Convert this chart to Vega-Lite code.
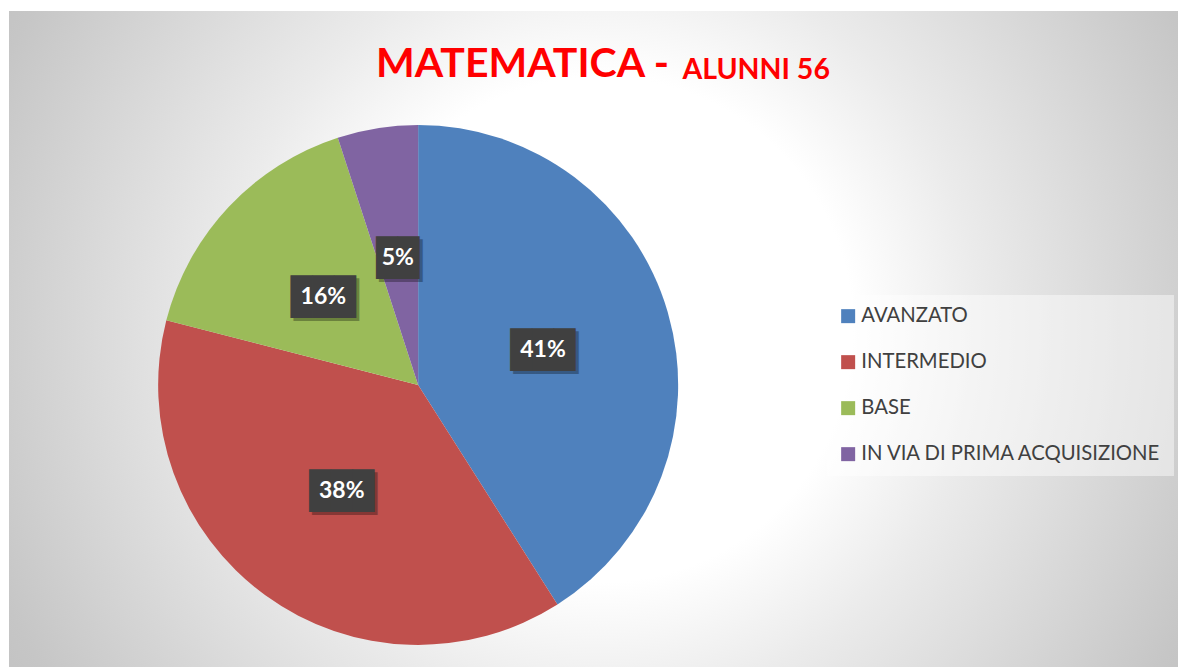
{
  "$schema": "https://vega.github.io/schema/vega-lite/v6.json",
  "width": 1178,
  "height": 667,
  "autosize": {"type": "fit", "contains": "padding"},
  "padding": {"left": 9, "top": 11, "right": 0, "bottom": 0},
  "background": "white",
  "config": {"view": {"stroke": "#bfbfbf", "strokeWidth": 1}},
  "title": {
    "text": "MATEMATICA -",
    "subtitle": "\u200b\u2003\u2003\u2003\u2003\u2003\u2003\u2003\u2003\u2003\u2003\u2003\u2003\u2003\u2003\u2009\u2009ALUNNI 56",
    "anchor": "start",
    "frame": "group",
    "dx": 367,
    "offset": -75,
    "font": "Lato",
    "fontSize": 41,
    "fontWeight": "bold",
    "color": "#ff0000",
    "subtitleFont": "Lato",
    "subtitleFontSize": 28.5,
    "subtitleFontWeight": "bold",
    "subtitleColor": "#ff0000",
    "subtitlePadding": -30
  },
  "data": {
    "values": [
      {"livello": "AVANZATO", "perc": 41},
      {"livello": "INTERMEDIO", "perc": 38},
      {"livello": "BASE", "perc": 16},
      {"livello": "IN VIA DI PRIMA ACQUISIZIONE", "perc": 5}
    ]
  },
  "transform": [
    {"window": [{"op": "row_number", "as": "ordine"}]},
    {"calculate": "datum.perc + '%'", "as": "etichetta"},
    {"calculate": "datum.perc >= 10 ? '███' : '██'", "as": "riquadro"}
  ],
  "layer": [
    {
      "data": {"values": [{}]},
      "mark": {
        "type": "rect",
        "clip": true,
        "fill": {
          "gradient": "radial",
          "x1": 0.506, "y1": 0.492, "r1": 0,
          "x2": 0.506, "y2": 0.492, "r2": 0.6,
          "stops": [
            {"offset": 0, "color": "#ffffff"},
            {"offset": 0.36, "color": "#ffffff"},
            {"offset": 0.54, "color": "#ebebeb"},
            {"offset": 0.93, "color": "#c6c6c6"},
            {"offset": 1, "color": "#c2c2c2"}
          ]
        },
        "strokeWidth": 0
      },
      "encoding": {
        "x": {"datum": 0, "type": "quantitative", "scale": {"domain": [0, 1]}, "axis": null},
        "x2": {"datum": 1},
        "y": {"datum": -0.39, "type": "quantitative", "scale": {"domain": [0, 1]}, "axis": null},
        "y2": {"datum": 1.39}
      }
    },
    {
      "mark": {"type": "arc", "outerRadius": 260},
      "encoding": {
        "theta": {"field": "perc", "type": "quantitative", "stack": true},
        "order": {"field": "ordine", "type": "quantitative"},
        "x": {"datum": 0.35, "type": "quantitative"},
        "y": {"datum": 0.43, "type": "quantitative"},
        "color": {
          "field": "livello",
          "type": "nominal",
          "scale": {
            "domain": ["AVANZATO", "INTERMEDIO", "BASE", "IN VIA DI PRIMA ACQUISIZIONE"],
            "range": ["#4f81bd", "#c0504d", "#9bbb59", "#8064a2"]
          },
          "legend": {
            "title": null,
            "orient": "none",
            "legendX": 818,
            "legendY": 284,
            "symbolType": "square",
            "symbolSize": 196,
            "symbolStrokeWidth": 0,
            "labelFont": "Lato",
            "labelFontSize": 20.3,
            "labelColor": "#404040",
            "labelOffset": 3,
            "labelLimit": 400,
            "rowPadding": 25,
            "padding": 11,
            "fillColor": "rgba(255,255,255,0.45)"
          }
        }
      }
    },
    {
      "mark": {"type": "text", "radius": 130, "font": "DejaVu Sans Mono", "fontSize": 36, "color": "#000000", "opacity": 0.3, "dx": 3, "dy": 5},
      "encoding": {
        "theta": {"field": "perc", "type": "quantitative", "stack": true},
        "order": {"field": "ordine", "type": "quantitative"},
        "x": {"datum": 0.35, "type": "quantitative"},
        "y": {"datum": 0.43, "type": "quantitative"},
        "text": {"field": "riquadro"}
      }
    },
    {
      "mark": {"type": "text", "radius": 130, "font": "DejaVu Sans Mono", "fontSize": 36, "color": "#404040", "dy": 2},
      "encoding": {
        "theta": {"field": "perc", "type": "quantitative", "stack": true},
        "order": {"field": "ordine", "type": "quantitative"},
        "x": {"datum": 0.35, "type": "quantitative"},
        "y": {"datum": 0.43, "type": "quantitative"},
        "text": {"field": "riquadro"}
      }
    },
    {
      "mark": {"type": "text", "radius": 130, "font": "Lato", "fontSize": 23, "fontWeight": "bold", "color": "#ffffff", "dy": 1},
      "encoding": {
        "theta": {"field": "perc", "type": "quantitative", "stack": true},
        "order": {"field": "ordine", "type": "quantitative"},
        "x": {"datum": 0.35, "type": "quantitative"},
        "y": {"datum": 0.43, "type": "quantitative"},
        "text": {"field": "etichetta"}
      }
    }
  ]
}
